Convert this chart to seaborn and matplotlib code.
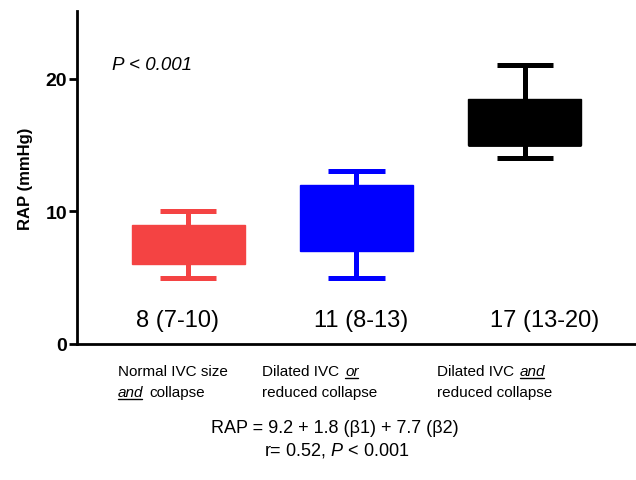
import numpy as np
import pandas as pd
import seaborn as sns
import matplotlib.pyplot as plt
from matplotlib.lines import Line2D

# ---- data ----
groups = ["normal", "dilated_or", "dilated_and"]
whisker_low = [5, 5, 14]
box_q1 = [6, 7, 15]
box_median = [8, 11, 15]
box_q3 = [9, 12, 18.5]
whisker_high = [10, 13, 21]
summary_labels = ["8 (7-10)", "11 (8-13)", "17 (13-20)"]
box_colors = ["#F44343", "#0000FF", "#000000"]

# category captions: list of lines, each line a list of (text, italic_underlined)
captions = [
    [[("Normal IVC size", False)], [("and", True), ("collapse", False)]],
    [[("Dilated IVC", False), ("or", True)], [("reduced collapse", False)]],
    [[("Dilated IVC", False), ("and", True)], [("reduced collapse", False)]],
]
formula = "RAP = 9.2 + 1.8 (\u03b21) + 7.7 (\u03b22)"
fit_line = r"r= 0.52, $\mathit{P}$ < 0.001"

# five-number summaries -> long table for seaborn
rows = []
for g, lo, a, m, b, hi in zip(groups, whisker_low, box_q1, box_median, box_q3, whisker_high):
    for v in (lo, a, m, b, hi):
        rows.append({"group": g, "rap": v})
df = pd.DataFrame(rows)

sns.set_style("ticks")
plt.rcParams["font.family"] = ["Liberation Sans", "DejaVu Sans"]
plt.rcParams["mathtext.fontset"] = "custom"
plt.rcParams["mathtext.rm"] = "Liberation Sans"
plt.rcParams["mathtext.it"] = "Liberation Sans:italic"
plt.rcParams["text.color"] = "black"
plt.rcParams["axes.labelcolor"] = "black"
plt.rcParams["ytick.color"] = "black"
plt.rcParams["xtick.color"] = "black"

fig = plt.figure(figsize=(6.36, 4.81), dpi=100)
ax = fig.add_axes([0.121, 0.283, 0.879, 0.692])

sns.boxplot(data=df, x="group", y="rap", hue="group", palette=box_colors,
            width=0.67, whis=(0, 100), showfliers=False, saturation=1,
            linewidth=1, legend=False, ax=ax)

# solid single-colour boxes with thick whiskers
for cont, c in zip(ax.containers, box_colors):
    for b in getattr(cont, "boxes", []):
        b.set_facecolor(c)
        b.set_edgecolor(c)
    for ln in list(cont.whiskers) + list(cont.caps):
        ln.set_color(c)
        ln.set_linewidth(3.6)
        ln.set_solid_capstyle("butt")
    for ln in cont.medians:
        ln.set_color(c)
        ln.set_linewidth(2)

ax.set_xlim(-0.66, 2.66)
ax.set_ylim(0, 25.1)
ax.set_yticks([0, 10, 20])
ax.set_yticklabels(["0", "10", "20"], fontsize=14, fontweight="bold", color="black")
ax.tick_params(axis="y", length=6, width=2, pad=1, color="black")
ax.tick_params(axis="x", length=0, labelbottom=False)
ax.set_xlabel("")
ax.set_ylabel("RAP (mmHg)", fontsize=12, fontweight="bold", color="black")
ax.yaxis.set_label_coords(-0.079, 0.5)
sns.despine(ax=ax)
for s in ("left", "bottom"):
    ax.spines[s].set_linewidth(2)
    ax.spines[s].set_color("black")

# summary labels under the boxes
label_x = [-0.065, 1.03, 2.12]
for x, txt in zip(label_x, summary_labels):
    ax.text(x, 1.36, txt, ha="center", va="baseline", fontsize=17, color="black")

ax.text(-0.451, 20.7, "P < 0.001", style="italic", fontsize=13.5, va="baseline", color="black")

# category captions with underlined italic words
renderer = fig.canvas.get_renderer()
to_fig = fig.transFigure.inverted()
caption_x = [0.1855, 0.412, 0.687]
caption_y = [0.218, 0.175]
gap = 6 / 636
for cx, lines in zip(caption_x, captions):
    for ly, parts in zip(caption_y, lines):
        cur = cx
        for txt, emph in parts:
            t = fig.text(cur, ly, txt, fontsize=11, va="baseline", ha="left",
                         style="italic" if emph else "normal", color="black")
            bb = t.get_window_extent(renderer).transformed(to_fig)
            if emph:
                fig.add_artist(Line2D([bb.x0, bb.x1 - 0.002], [ly - 0.006] * 2,
                                      transform=fig.transFigure, color="black", lw=1))
            cur = bb.x1 + gap

fig.text(0.527, 0.0998, formula, ha="center", va="baseline", fontsize=13, color="black")
fig.text(0.53, 0.054, fit_line, ha="center", va="baseline", fontsize=13, color="black")

fig.savefig("out.png", dpi=100)
